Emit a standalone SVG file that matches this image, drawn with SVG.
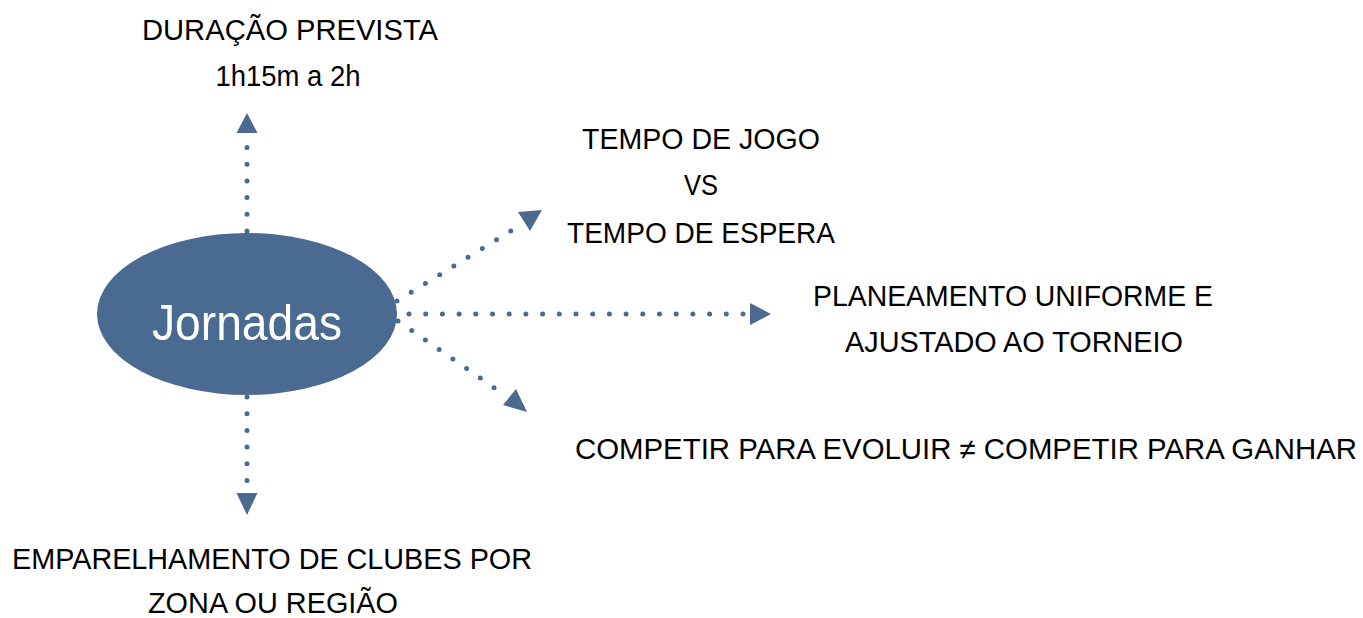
<svg xmlns="http://www.w3.org/2000/svg" width="1363" height="618" viewBox="0 0 1363 618">
<style>
.lbl{font-family:"Liberation Sans",Arial,sans-serif;font-size:29px;fill:#000;text-anchor:middle}
.dot{fill:none;stroke:#4B6A91;stroke-width:5;stroke-linecap:round;stroke-dasharray:0 16.7}
.head{fill:#4B6A91}
</style>
<rect width="1363" height="618" fill="#fff"/>
<g id="connectors">
<line class="dot" x1="247" y1="231" x2="247" y2="142"/>
<polygon class="head" points="247,113 236.5,133 257.5,133"/>
<line class="dot" x1="247" y1="397" x2="247" y2="482"/>
<polygon class="head" points="247,515 236.5,493 257.5,493"/>
<line class="dot" x1="409" y1="314" x2="745" y2="314"/>
<polygon class="head" points="771,314 750,303 750,325"/>
<line class="dot" x1="397" y1="301" x2="522" y2="224"/>
<polygon class="head" points="542,210 518,212 530,231"/>
<line class="dot" x1="398" y1="321" x2="496" y2="389"/>
<polygon class="head" points="527,412 503,405 516,389"/>
</g>
<g id="center">
<ellipse cx="247" cy="314" rx="150" ry="81" fill="#4B6A91"/>
<text x="247" y="340" font-family="Liberation Sans,Arial,sans-serif" font-size="50" fill="#fff" text-anchor="middle" textLength="190" lengthAdjust="spacingAndGlyphs">Jornadas</text>
</g>
<g id="duracao">
<text class="lbl" x="290" y="40" textLength="296" lengthAdjust="spacingAndGlyphs">DURAÇÃO  PREVISTA</text>
<text class="lbl" x="288" y="86" textLength="145" lengthAdjust="spacingAndGlyphs">1h15m a 2h</text>
</g>
<g id="tempo">
<text class="lbl" x="701" y="149" textLength="238" lengthAdjust="spacingAndGlyphs">TEMPO DE JOGO</text>
<text class="lbl" x="701" y="195" textLength="34" lengthAdjust="spacingAndGlyphs">VS</text>
<text class="lbl" x="701" y="243" textLength="268" lengthAdjust="spacingAndGlyphs">TEMPO DE ESPERA</text>
</g>
<g id="planeamento">
<text class="lbl" x="1013" y="306" textLength="400" lengthAdjust="spacingAndGlyphs">PLANEAMENTO UNIFORME E</text>
<text class="lbl" x="1014" y="352" textLength="338" lengthAdjust="spacingAndGlyphs">AJUSTADO AO TORNEIO</text>
</g>
<g id="competir">
<text class="lbl" x="966" y="459" textLength="782" lengthAdjust="spacingAndGlyphs">COMPETIR PARA EVOLUIR ≠ COMPETIR PARA GANHAR</text>
</g>
<g id="emparelhamento">
<text class="lbl" x="272" y="569" textLength="520" lengthAdjust="spacingAndGlyphs">EMPARELHAMENTO DE CLUBES POR</text>
<text class="lbl" x="273" y="613" textLength="250" lengthAdjust="spacingAndGlyphs">ZONA OU REGIÃO</text>
</g>
</svg>
